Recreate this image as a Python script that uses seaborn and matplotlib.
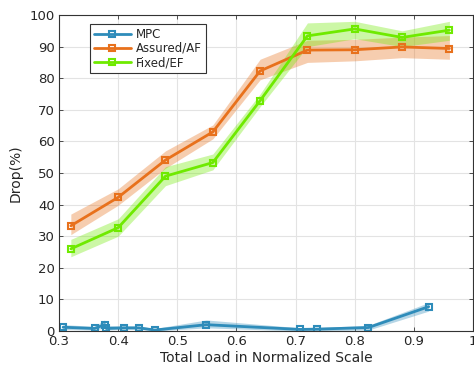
import numpy as np
import pandas as pd
import matplotlib
matplotlib.use("Agg")
import matplotlib.pyplot as plt
import seaborn as sns

# ---- data ----
mpc_x = [0.307, 0.36, 0.377, 0.38, 0.41, 0.435, 0.462, 0.549, 0.708, 0.737, 0.823, 0.925]
mpc_y = [1.2, 0.8, 2.0, 0.8, 1.0, 1.0, 0.3, 2.0, 0.5, 0.6, 1.1, 7.7]
mpc_lo = [0.5, 0.3, 1.0, 0.3, 0.5, 0.5, 0.0, 1.0, 0.0, 0.1, 0.3, 6.3]
mpc_hi = [2.0, 1.5, 3.5, 1.8, 1.6, 1.5, 0.8, 3.5, 1.0, 1.1, 1.8, 9.0]

af_x = [0.32, 0.40, 0.48, 0.56, 0.64, 0.72, 0.80, 0.88, 0.96]
af_y = [33.3, 42.3, 54.1, 63.0, 82.3, 88.9, 89.0, 89.9, 89.4]
af_lo = [30.5, 39.8, 51.5, 60.8, 79.5, 85.0, 85.5, 86.5, 86.0]
af_hi = [37.0, 45.0, 57.0, 65.2, 86.0, 92.0, 92.3, 93.0, 93.5]

ef_x = [0.32, 0.40, 0.48, 0.56, 0.64, 0.72, 0.80, 0.88, 0.96]
ef_y = [26.0, 32.7, 49.0, 53.3, 72.9, 93.4, 95.6, 92.9, 95.2]
ef_lo = [23.5, 30.0, 46.0, 51.0, 71.0, 90.0, 92.5, 90.0, 92.0]
ef_hi = [29.0, 35.5, 52.0, 56.0, 75.0, 97.5, 98.0, 95.0, 98.0]

series_names = ["MPC", "Assured/AF", "Fixed/EF"]
colors = ["#2E8CBA", "#E8711C", "#6FEA00"]

xticks = [0.3, 0.4, 0.5, 0.6, 0.7, 0.8, 0.9, 1.0]
xticklabels = ["0.3", "0.4", "0.5", "0.6", "0.7", "0.8", "0.9", "1"]
yticks = list(range(0, 101, 10))

# ---- plot ----
sns.set_theme(style="white")
plt.rcParams["font.family"] = ["DejaVu Sans"]

fig = plt.figure(figsize=(4.74, 3.66), dpi=100)
ax = fig.add_axes([0.1245, 0.0956, 0.8735, 0.8634])

data = [(mpc_x, mpc_y, mpc_lo, mpc_hi), (af_x, af_y, af_lo, af_hi), (ef_x, ef_y, ef_lo, ef_hi)]
for (x, y, lo, hi), name, c in zip(data, series_names, colors):
    ax.fill_between(x, lo, hi, color=c, alpha=0.35, linewidth=0)
    df = pd.DataFrame({"x": x, "y": y})
    sns.lineplot(data=df, x="x", y="y", ax=ax, color=c, linewidth=2, sort=False,
                 marker="s", markersize=5, markerfacecolor="none",
                 markeredgecolor=c, markeredgewidth=1.5, label=name)

ax.set_xlim(0.3, 1.0)
ax.set_ylim(0, 100)
ax.set_xticks(xticks)
ax.set_xticklabels(xticklabels)
ax.set_yticks(yticks)
ax.grid(True, color="#e3e3e3", linewidth=0.8)
ax.set_axisbelow(True)
for s in ax.spines.values():
    s.set_color("#333333")
    s.set_linewidth(0.8)
ax.tick_params(direction="in", length=3, top=True, right=True, bottom=True, left=True,
               labelsize=9.5, colors="#333333", labelcolor="#262626", width=0.6, pad=3)
ax.set_xlabel("Total Load in Normalized Scale", fontsize=10, color="#262626", labelpad=2)
ax.set_ylabel("Drop(%)", fontsize=10, color="#262626", labelpad=5)

leg = ax.legend(loc="upper left", bbox_to_anchor=(0.075, 0.971), borderaxespad=0,
                fontsize=8.5, frameon=True, fancybox=False, handlelength=3.2,
                borderpad=0.3, labelspacing=0.1, handletextpad=0.4)
leg.get_frame().set_edgecolor("#333333")
leg.get_frame().set_linewidth(0.8)
leg.get_frame().set_alpha(1)

fig.savefig("out.png", dpi=100)
